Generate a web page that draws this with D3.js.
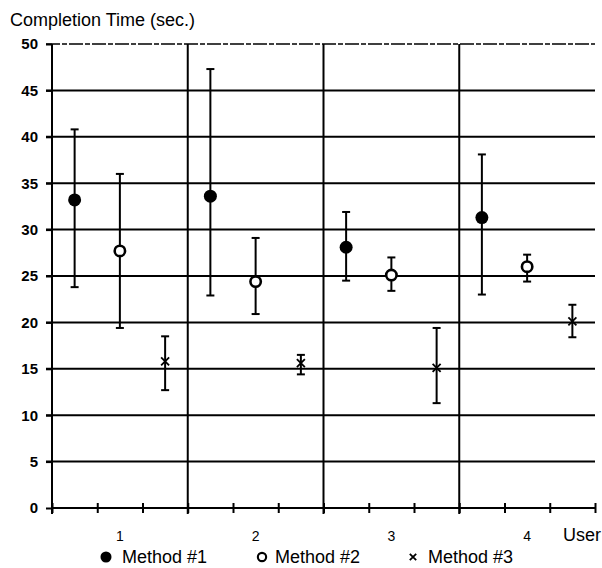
<!DOCTYPE html>
<html>
<head>
<meta charset="utf-8">
<script src="https://cdn.jsdelivr.net/npm/d3@7"></script>
<style>
  body { margin: 0; background: #fff; }
  text { font-family: Arial, "Liberation Sans", sans-serif; fill: #000; }
</style>
</head>
<body>
<div id="chart"></div>
<script>
// users on the x axis, completion time (sec.) per method
const users = ["1", "2", "3", "4"];
const methods = ["Method #1", "Method #2", "Method #3"];
const means = [
  [33.2, 33.6, 28.1, 31.3],
  [27.7, 24.4, 25.1, 26.0],
  [15.8, 15.6, 15.1, 20.1]
];
const highs = [
  [40.8, 47.3, 31.9, 38.1],
  [36.0, 29.1, 27.0, 27.3],
  [18.5, 16.5, 19.4, 21.9]
];
const lows = [
  [23.8, 22.9, 24.5, 23.0],
  [19.4, 20.9, 23.4, 24.4],
  [12.7, 14.4, 11.3, 18.4]
];
const yTicks = [0, 5, 10, 15, 20, 25, 30, 35, 40, 45, 50];

const W = 602, H = 568;
const margin = { top: 44, right: 7, bottom: 60, left: 52 };

const svg = d3.select("#chart").append("svg")
  .attr("width", W).attr("height", H);

const x = d3.scaleLinear().domain([0, users.length]).range([margin.left, W - margin.right]);
const y = d3.scaleLinear().domain([0, 50]).range([H - margin.bottom, margin.top]);

// each user slot split in thirds, one method per third
const offset = m => (2 * m + 1) / 6;

// horizontal grid
svg.append("g")
  .selectAll("line")
  .data(yTicks.filter(d => d > 0))
  .enter().append("line")
  .attr("x1", margin.left - 6)
  .attr("x2", W - margin.right)
  .attr("y1", d => y(d))
  .attr("y2", d => y(d))
  .attr("stroke", "#000")
  .attr("stroke-width", d => d === 50 ? 1.4 : 2)
  .attr("stroke-dasharray", d => d === 50 ? "14,2,5,2" : null);

// vertical separators between users
svg.append("g")
  .selectAll("line")
  .data([0, 1, 2, 3])
  .enter().append("line")
  .attr("x1", d => x(d))
  .attr("x2", d => x(d))
  .attr("y1", y(50))
  .attr("y2", y(0) + 6)
  .attr("stroke", "#000")
  .attr("stroke-width", 2);

// y axis labels
svg.append("g")
  .attr("transform", "translate(" + margin.left + ",0)")
  .call(d3.axisLeft(y).tickValues(yTicks).tickSize(6).tickPadding(8))
  .call(g => g.select(".domain").remove())
  .call(g => g.selectAll("line").attr("stroke-width", 2))
  .call(g => g.selectAll("text").attr("font-size", 15).attr("font-weight", "bold")
    .attr("font-family", "Arial, 'Liberation Sans', sans-serif").attr("fill", "#000"));

// x axis with third ticks
const xAxis = svg.append("g")
  .attr("transform", "translate(0," + y(0) + ")")
  .call(d3.axisBottom(x).tickValues(d3.range(0, 13).map(d => d / 3)).tickSize(5).tickFormat(""));
xAxis.select(".domain").attr("stroke-width", 2).attr("d", "M" + x(0) + ",0H" + x(4));
xAxis.selectAll(".tick line").attr("y1", -5).attr("stroke-width", 2);

// user labels
svg.append("g")
  .selectAll("text")
  .data(users)
  .enter().append("text")
  .attr("x", (d, i) => x(i + 0.5))
  .attr("y", y(0) + 33)
  .attr("text-anchor", "middle")
  .attr("font-size", 14)
  .text(d => d);

svg.append("text")
  .attr("x", W - 1)
  .attr("y", y(0) + 33)
  .attr("text-anchor", "end")
  .attr("font-size", 18)
  .text("User");

svg.append("text")
  .attr("x", 10)
  .attr("y", 26)
  .attr("font-size", 18)
  .text("Completion Time (sec.)");

// error bars
methods.forEach((name, m) => {
  const g = svg.append("g");
  users.forEach((u, i) => {
    const cx = x(i + offset(m));
    g.append("line")
      .attr("x1", cx).attr("x2", cx)
      .attr("y1", y(highs[m][i])).attr("y2", y(lows[m][i]))
      .attr("stroke", "#000").attr("stroke-width", 2);
    [highs[m][i], lows[m][i]].forEach(v => {
      g.append("line")
        .attr("x1", cx - 4).attr("x2", cx + 4)
        .attr("y1", y(v)).attr("y2", y(v))
        .attr("stroke", "#000").attr("stroke-width", 2);
    });
  });
});

// markers
function marker(g, m, cx, cy, s) {
  if (m === 0) {
    g.append("circle").attr("cx", cx).attr("cy", cy).attr("r", 6.5 * s).attr("fill", "#000");
  } else if (m === 1) {
    g.append("circle").attr("cx", cx).attr("cy", cy).attr("r", 5.2 * s)
      .attr("fill", "#fff").attr("stroke", "#000").attr("stroke-width", 2.6 * s);
  } else {
    const r = 4 * s;
    g.append("path")
      .attr("d", "M" + (cx - r) + "," + (cy - r) + "L" + (cx + r) + "," + (cy + r) +
                 "M" + (cx - r) + "," + (cy + r) + "L" + (cx + r) + "," + (cy - r))
      .attr("stroke", "#000").attr("stroke-width", 1.8);
  }
}

methods.forEach((name, m) => {
  const g = svg.append("g");
  users.forEach((u, i) => marker(g, m, x(i + offset(m)), y(means[m][i]), 1));
});

// legend
const legendX = [106, 262, 413];
const legendText = [122, 275, 428];
const legend = svg.append("g");
methods.forEach((name, m) => {
  marker(legend, m, legendX[m], 557, m === 0 ? 0.85 : 0.8);
  legend.append("text")
    .attr("x", legendText[m])
    .attr("y", 563)
    .attr("font-size", 18)
    .text(name);
});
</script>
</body>
</html>
